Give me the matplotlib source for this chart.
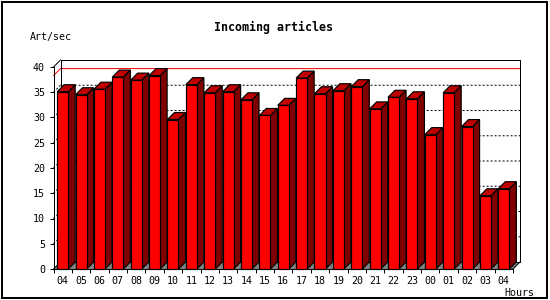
import matplotlib
matplotlib.use('Agg')
import matplotlib.pyplot as plt
from matplotlib.patches import Polygon, Rectangle

# ---- data ----
hours = ['04', '05', '06', '07', '08', '09', '10', '11', '12', '13', '14', '15', '16',
         '17', '18', '19', '20', '21', '22', '23', '00', '01', '02', '03', '04']
articles_per_sec = [35.1, 34.5, 35.6, 38.0, 37.4, 38.3, 29.6, 36.5, 34.9, 35.1, 33.5, 30.4, 32.4,
                    37.8, 34.7, 35.3, 36.1, 31.7, 34.0, 33.7, 26.6, 34.9, 28.2, 14.5, 15.9]
y_ticks = [0, 5, 10, 15, 20, 25, 30, 35, 40]
grid_levels = [5, 10, 15, 20, 25, 30, 35]
title = 'Incoming articles'
y_label = 'Art/sec'
x_label = 'Hours'

# ---- styling ----
W, H, DPI = 550, 300, 100
PX = 72.0 / DPI  # one pixel in points
MONO = 'DejaVu Sans Mono'
FRONT = '#FF0000'
SIDE = '#800000'
TOPC = '#C00000'
FLOOR = '#808080'

fig = plt.figure(figsize=(W / DPI, H / DPI), dpi=DPI)
fig.patch.set_facecolor('white')


def fx(px):
    return px / W


def fy(py):
    return 1 - py / H


left, right, top, bottom = 53.5, 513.0, 67.0, 269.0
ax = fig.add_axes([fx(left), fy(bottom), (right - left) / W, (bottom - top) / H])
n = len(hours)
ymax = y_ticks[-1]
ax.set_xlim(0, n)
ax.set_ylim(0, ymax)
ax.patch.set_visible(False)

# depth offset of 7 px converted to data units through the axes transform
p0 = ax.transData.transform((0, 0))
p1 = ax.transData.transform((1, 1))
dx = 7.0 / (p1[0] - p0[0])
dy = 7.0 / (p1[1] - p0[1])

common = dict(clip_on=False)

# floor
ax.add_patch(Polygon([(0, 0), (dx, dy), (n + dx, dy), (n, 0)], closed=True,
                     facecolor=FLOOR, edgecolor='none', zorder=1, **common))

# gridlines on back wall
for v in grid_levels:
    ax.plot([0, dx, n + dx], [v, v + dy, v + dy], color='black', lw=PX,
            ls=(0, (2, 2)), zorder=2, **common)

# max line
m = max(articles_per_sec)
ax.plot([0, dx, n + dx], [m, m + dy, m + dy], color='red', lw=PX, zorder=2.5, **common)

# frame lines
frame = [
    ([dx, n + dx], [ymax + dy, ymax + dy]),
    ([n + dx, n + dx], [dy, ymax + dy]),
    ([dx, dx], [dy, ymax + dy]),
    ([0, dx], [ymax, ymax + dy]),
    ([0, dx], [0, dy]),
    ([n, n + dx], [0, dy]),
    ([dx, n + dx], [dy, dy]),
]
for xs, ys in frame:
    ax.plot(xs, ys, color='black', lw=PX, zorder=3, **common)

# bars
bw = 0.6
for i, v in enumerate(articles_per_sec):
    x0 = i + 0.5 - bw / 2
    x1 = i + 0.5 + bw / 2
    z = 10 + i * 0.01
    ax.add_patch(Polygon([(x1, 0), (x1 + dx, dy), (x1 + dx, v + dy), (x1, v)], closed=True,
                         facecolor=SIDE, edgecolor='black', lw=PX * 1.2, zorder=z, **common))
    ax.add_patch(Polygon([(x0, v), (x0 + dx, v + dy), (x1 + dx, v + dy), (x1, v)], closed=True,
                         facecolor=TOPC, edgecolor='black', lw=PX * 1.2, zorder=z, **common))
    ax.add_patch(Rectangle((x0, 0), bw, v, facecolor=FRONT, edgecolor='black',
                           lw=PX * 1.2, zorder=z + 0.001, **common))

# axes / ticks
for s in ['top', 'right']:
    ax.spines[s].set_visible(False)
for s in ['left', 'bottom']:
    ax.spines[s].set_linewidth(PX)
    ax.spines[s].set_zorder(20)

ax.set_yticks(y_ticks)
ax.set_yticklabels([str(t) for t in y_ticks])
ax.tick_params(axis='y', which='major', length=4 * PX, width=PX, direction='out',
               pad=3.2, labelsize=7.2)
ax.set_xticks(range(n + 1))
ax.set_xticklabels([])
ax.set_xticks([i + 0.5 for i in range(n)], minor=True)
ax.set_xticklabels(hours, minor=True)
ax.tick_params(axis='x', which='major', length=4 * PX, width=PX, direction='out')
ax.tick_params(axis='x', which='minor', length=0, pad=5.4, labelsize=7.2)
for lbl in ax.get_xticklabels(minor=True) + ax.get_yticklabels():
    lbl.set_family(MONO)

# texts
fig.text(273.5 / W, fy(31), title, ha='center', va='baseline', fontsize=8.4,
         fontweight='bold', family=MONO)
fig.text(fx(30), fy(40), y_label, ha='left', va='baseline', fontsize=7.2, family=MONO)
fig.text(fx(504), fy(296), x_label, ha='left', va='baseline', fontsize=7.2, family=MONO)

# outer border
fig.add_artist(Rectangle((fx(1.5), fy(298.0)), (546.5 - 1.5) / W, (298.0 - 1.5) / H,
                         transform=fig.transFigure, facecolor='none', edgecolor='black',
                         lw=2 * PX))

fig.savefig('out.png', dpi=DPI)
